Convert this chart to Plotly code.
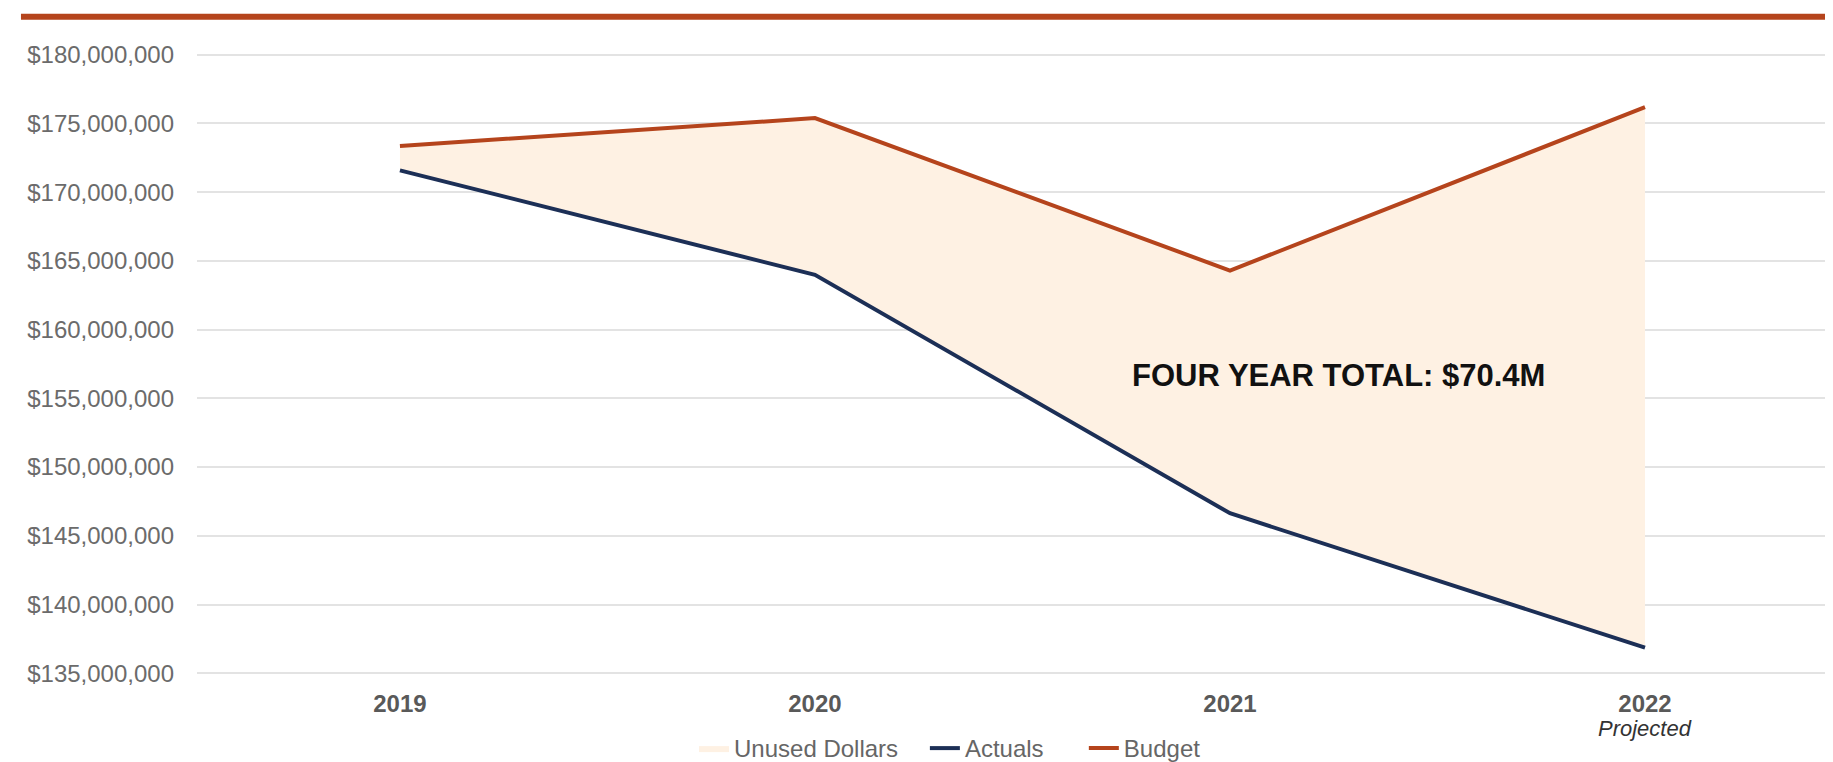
import plotly.graph_objects as go

years = ["2019", "2020", "2021", "2022"]
budget = [173_360_000, 175_390_000, 164_300_000, 176_190_000]
actuals = [171_590_000, 163_990_000, 146_640_000, 136_860_000]
y_ticks = [135_000_000, 140_000_000, 145_000_000, 150_000_000, 155_000_000,
           160_000_000, 165_000_000, 170_000_000, 175_000_000, 180_000_000]
y_tick_text = [f"${v:,}" for v in y_ticks]
total_label = "FOUR YEAR TOTAL: $70.4M"
projected_label = "Projected"

FONT = "Liberation Sans, Arial, sans-serif"
BUDGET_C = "#B5441C"
ACTUAL_C = "#1C2F56"
FILL_C = "#FEF1E3"
LEG_FONT = dict(family=FONT, size=24, color="#666666")

fig = go.Figure()
fig.add_trace(go.Scatter(x=years, y=actuals, mode="lines", line=dict(width=0),
                         showlegend=False, hoverinfo="skip"))
fig.add_trace(go.Scatter(x=years, y=budget, mode="lines", line=dict(width=0),
                         fill="tonexty", fillcolor=FILL_C, name="Unused Dollars",
                         hoverinfo="skip", legend="legend"))
fig.add_trace(go.Scatter(x=years, y=actuals, mode="lines",
                         line=dict(color=ACTUAL_C, width=4), name="Actuals",
                         legend="legend2"))
fig.add_trace(go.Scatter(x=years, y=budget, mode="lines",
                         line=dict(color=BUDGET_C, width=4), name="Budget",
                         legend="legend3"))

fig.add_annotation(x=2.262, y=156_640_000, xref="x", yref="y", text=f"<b>{total_label}</b>",
                   showarrow=False, xanchor="center", yanchor="middle",
                   font=dict(family=FONT, size=31, color="#111111"))
fig.add_annotation(x=3, y=-0.0835, xref="x", yref="paper", text=f"<i>{projected_label}</i>",
                   showarrow=False, xanchor="center", yanchor="middle",
                   font=dict(family=FONT, size=22, color="#333333"))

# top accent rule
fig.add_shape(type="line", xref="paper", yref="paper", x0=-0.1076, x1=1.0,
              y0=1.0565, y1=1.0565, line=dict(color=BUDGET_C, width=6))


def leg(x):
    return dict(orientation="h", xref="container", yref="container",
                x=x, y=0.0179, xanchor="left", yanchor="middle",
                font=LEG_FONT, itemwidth=30, bgcolor="rgba(0,0,0,0)")


fig.update_layout(
    width=1825, height=754,
    margin=dict(l=189, r=0, t=44.25, b=85.95, autoexpand=False),
    paper_bgcolor="white", plot_bgcolor="white",
    font=dict(family=FONT),
    showlegend=True,
    legend=leg(0.3759),
    legend2=leg(0.5024),
    legend3=leg(0.5895),
    xaxis=dict(type="category", range=[-0.489, 3.453], showgrid=False, zeroline=False,
               showline=False, ticks="",
               tickfont=dict(family=FONT, size=24, color="#595959", weight="bold"),
               ticklabelstandoff=11),
    yaxis=dict(range=[134_800_000, 180_200_000], tickmode="array", tickvals=y_ticks,
               ticktext=y_tick_text, showgrid=True, gridcolor="#E3E3E3", gridwidth=2,
               zeroline=False, showline=False, ticks="",
               tickfont=dict(family=FONT, size=24, color="#6b6b6b"),
               ticklabelstandoff=22),
)

fig.write_html("out.html")
